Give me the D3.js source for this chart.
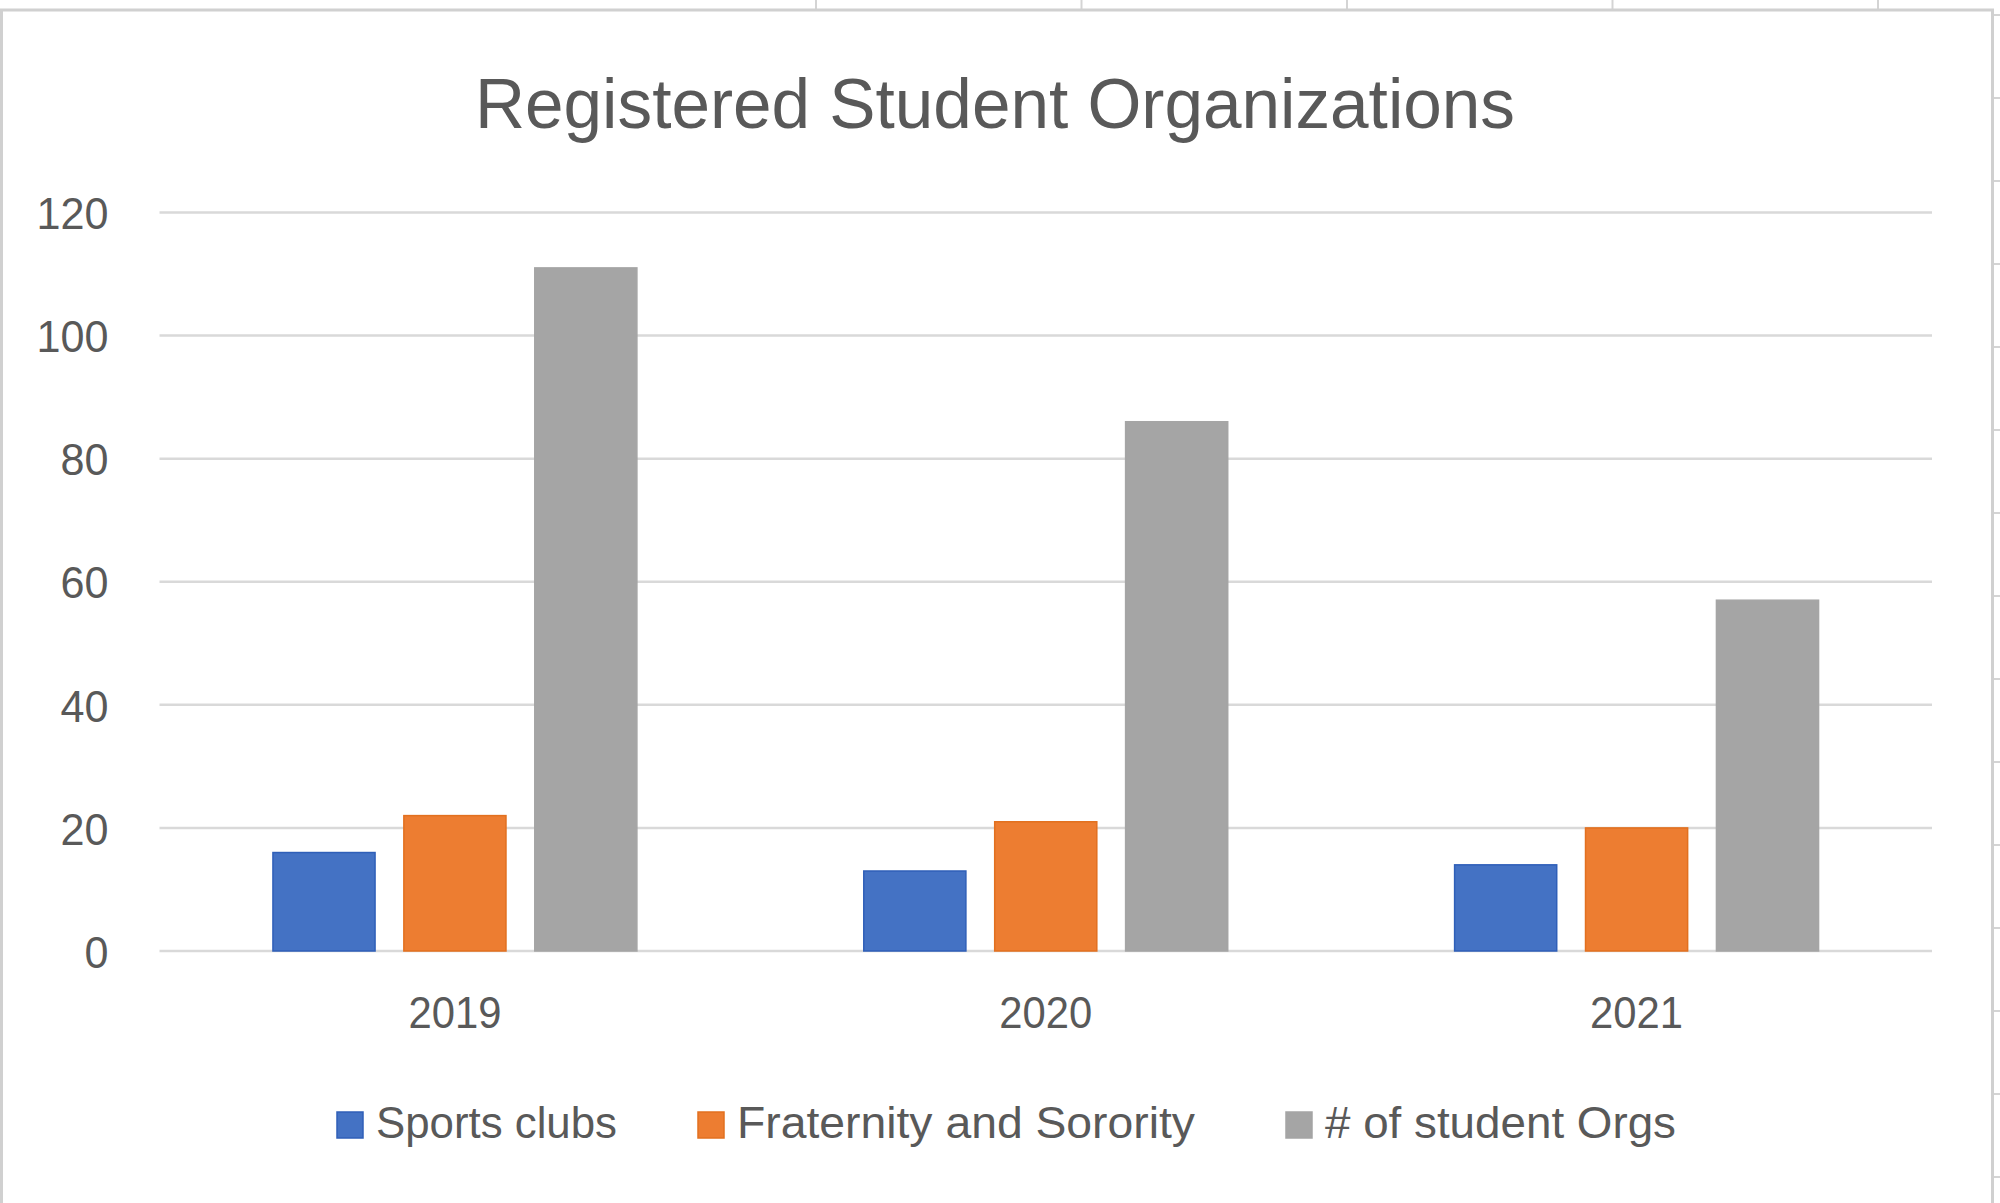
<!DOCTYPE html>
<html>
<head>
<meta charset="utf-8">
<script src="https://cdn.jsdelivr.net/npm/d3@7"></script>
<style>
  html, body { margin: 0; padding: 0; background: #ffffff; }
  svg { display: block; }
</style>
</head>
<body>
<svg id="chart" width="2000" height="1203"></svg>
<script>
const title = "Registered Student Organizations";
const years = ["2019", "2020", "2021"];
const seriesNames = ["Sports clubs", "Fraternity and Sorority", "# of student Orgs"];
const sportsClubs = [16, 13, 14];
const fraternitySorority = [22, 21, 20];
const studentOrgs = [111, 86, 57];
const yTicks = [0, 20, 40, 60, 80, 100, 120];
const colors = ["#4472C4", "#ED7D31", "#A5A5A5"];
const strokes = ["#2f5fb8", "#e2701f", "#a5a5a5"];

(function () {
const seriesValues = [sportsClubs, fraternitySorority, studentOrgs];
const rows = years.map((yr, i) => ({year: yr, values: seriesNames.map((s, j) => ({series: s, j, value: seriesValues[j][i]}))}));

const FONT = "'Liberation Sans Narrow', 'Liberation Sans', 'DejaVu Sans Condensed', sans-serif";
const svg = d3.select("#chart");

// spreadsheet backdrop around the chart object
const back = svg.append("g");
back.selectAll("line.col").data(d3.range(5)).join("line")
  .attr("x1", i => 816 + i * 265.5).attr("x2", i => 816 + i * 265.5)
  .attr("y1", 0).attr("y2", 10).attr("stroke", "#d4d4d4").attr("stroke-width", 2);
back.selectAll("line.row").data(d3.range(15)).join("line")
  .attr("x1", 1994).attr("x2", 2000)
  .attr("y1", i => 15 + i * 83).attr("y2", i => 15 + i * 83)
  .attr("stroke", "#d4d4d4").attr("stroke-width", 2);

// chart frame
svg.append("rect").attr("x", 1.5).attr("y", 10).attr("width", 1991).attr("height", 1200)
  .attr("fill", "#ffffff").attr("stroke", "#d0d0d0").attr("stroke-width", 3);

const pLeft = 159.5, pRight = 1932, pTop = 212.5, pBottom = 951;

const y = d3.scaleLinear().domain([0, 120]).range([pBottom, pTop]);
const x0 = d3.scaleBand().domain(years).range([pLeft, pRight]).paddingInner(0.384).paddingOuter(0.192);
const x1 = d3.scaleBand().domain(seriesNames).range([0, x0.bandwidth()]).paddingInner(0.22).paddingOuter(0);

// gridlines
svg.append("g").selectAll("line").data(yTicks).join("line")
  .attr("x1", pLeft).attr("x2", pRight)
  .attr("y1", d => y(d)).attr("y2", d => y(d))
  .attr("stroke", "#d9d9d9").attr("stroke-width", 2.5);

// y axis labels
const yAxis = svg.append("g").attr("transform", `translate(${pLeft},0)`)
  .call(d3.axisLeft(y).tickValues(yTicks).tickSize(0).tickPadding(51));
yAxis.select(".domain").remove();
yAxis.selectAll("text").attr("font-family", FONT).attr("font-size", 45).attr("fill", "#595959")
  .attr("dy", "0.36em")
  .attr("textLength", d => String(d).length * 24).attr("lengthAdjust", "spacingAndGlyphs");

// x axis labels
const xAxis = svg.append("g").attr("transform", `translate(0,${pBottom})`)
  .call(d3.axisBottom(x0).tickSize(0).tickPadding(45));
xAxis.select(".domain").remove();
xAxis.selectAll("text").attr("font-family", FONT).attr("font-size", 45).attr("fill", "#595959")
  .attr("dy", "0.71em")
  .attr("textLength", 93).attr("lengthAdjust", "spacingAndGlyphs");

// bars
svg.append("g").selectAll("g").data(rows).join("g")
  .attr("transform", d => `translate(${x0(d.year)},0)`)
  .selectAll("rect").data(d => d.values).join("rect")
  .attr("x", d => x1(d.series))
  .attr("width", x1.bandwidth())
  .attr("y", d => y(d.value))
  .attr("height", d => y(0) - y(d.value))
  .attr("fill", d => colors[d.j])
  .attr("stroke", d => strokes[d.j]).attr("stroke-width", 1.5);

// title
svg.append("text").attr("x", 995).attr("y", 128).attr("text-anchor", "middle")
  .attr("font-family", FONT).attr("font-size", 70).attr("fill", "#595959")
  .attr("textLength", 1040).attr("lengthAdjust", "spacingAndGlyphs")
  .text(title);

// legend
const legendX = [337, 698, 1286];
const legendW = [241, 458, 351];
const lg = svg.append("g").selectAll("g").data(seriesNames).join("g")
  .attr("transform", (d, i) => `translate(${legendX[i]},1112)`);
lg.append("rect").attr("width", 26).attr("height", 26)
  .attr("fill", (d, i) => colors[i]).attr("stroke", (d, i) => strokes[i]).attr("stroke-width", 1.5);
lg.append("text").attr("x", 39).attr("y", 26)
  .attr("font-family", FONT).attr("font-size", 45).attr("fill", "#595959")
  .attr("textLength", (d, i) => legendW[i]).attr("lengthAdjust", "spacingAndGlyphs")
  .text(d => d);
})();
</script>
</body>
</html>
